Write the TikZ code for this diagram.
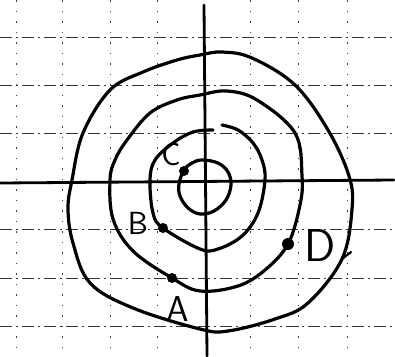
\documentclass[tikz,border=0pt]{standalone}
\usetikzlibrary{calc}
\begin{document}
\begin{tikzpicture}[x=1pt,y=-1pt,
  hgrid/.style={line width=0.8pt,black!80,dash pattern=on 12pt off 4pt on 2pt off 4pt},
  vgrid/.style={line width=0.9pt,black!75,dash pattern=on 1.5pt off 9pt},
  axisline/.style={line width=2.8pt,line cap=round},
  contour/.style={line width=3.2pt,line cap=round,line join=round},
  pt/.style={circle,fill=black,inner sep=0pt,minimum size=10pt},
  lbl/.style={font=\sffamily\fontsize{36}{36}\selectfont,inner sep=0pt}]
\useasboundingbox (0,0) rectangle (395,356);
\fill[white] (0,0) rectangle (395,356);
% grid
\foreach \y in {37,85,133,229,278,326} \draw[hgrid] (0,\y) -- (395,\y);
\foreach \x in {16,62,110,157,250,298,347} \draw[vgrid] (\x,0) -- (\x,356);
% axes
\coordinate (xl) at (0,183);
\coordinate (xr) at (394,180);
\coordinate (yt) at (204,5);
\coordinate (yb) at (207,356);
\draw[axisline] (xl) -- (xr);
\draw[axisline] (yt) -- (yb);
% outer contour
\draw[contour] plot[smooth cycle,tension=0.6] coordinates {(200,55) (222,52) (252,58) (295,85) (328,130) (349,176) (352,209) (342,259) (308,303) (275,319) (228,331) (200,329) (133,308) (90,283) (73,243) (68,209) (72,180) (83,133) (110,90) (143,72) (177,60)};
\draw[contour,line width=2.2pt] (342,259) -- (351,252);
% third contour
\draw[contour] plot[smooth cycle,tension=0.6] coordinates {(200,95) (227,91) (257,100) (295,133) (302,176) (300,205) (288,244) (265,270) (238,286) (200,291) (172,278) (133,251) (113,219) (110,180) (115,160) (127,140) (150,113) (177,100)};
% second contour
\draw[contour] plot[smooth,tension=0.6] coordinates {(222,125) (238,130) (253,143) (262,160) (265,180) (258,213) (242,236) (218,249) (200,249) (163,228) (153,213) (150,180) (155,160) (173,143) (193,132) (213,130)};
% inner contour
\draw[contour] plot[smooth cycle,tension=0.6] coordinates {(202,160) (218,163) (228,172) (231,185) (226,200) (214,211) (200,214) (188,208) (180,196) (179,184) (184,170) (192,163)};
% points
\node[pt] (A) at (172,278) {};
\node[pt] (B) at (163,228) {};
\node[pt] (C) at (184,171) {};
\node[pt,minimum size=12pt] (D) at (288,244) {};
% labels
\node[lbl] (la) at (178,309) {A};
\node[lbl,font=\sffamily\fontsize{32}{32}\selectfont] (lb) at (138,223) {B};
\node[lbl,font=\sffamily\fontsize{32}{32}\selectfont] (lc) at (171,155) {C};
\node[lbl,font=\sffamily\fontsize{46}{46}\selectfont] (ld) at (320,246) {D};
\end{tikzpicture}
\end{document}
